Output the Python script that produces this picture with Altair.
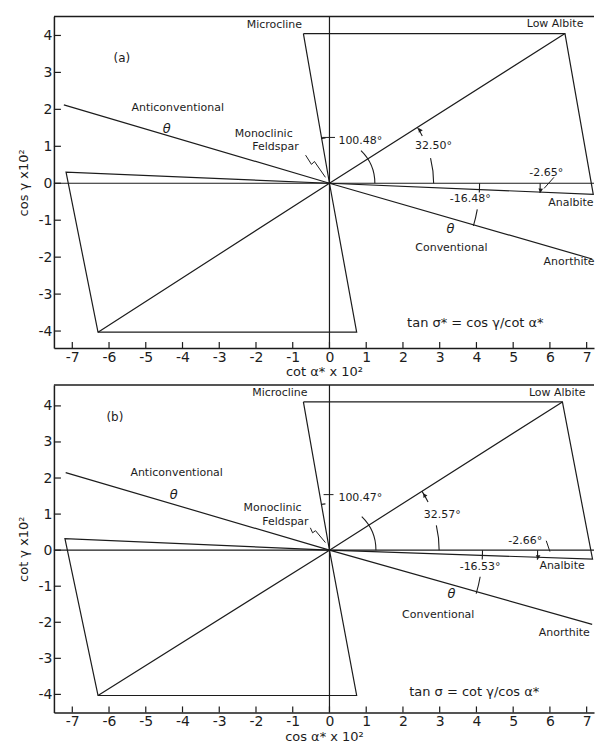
import math
import altair as alt
import pandas as pd

# ---------------- layout ----------------
W = 541
H_A = 332
H_B = 328
X_DOM = [-7.5, 7.2]
YA_DOM = [-4.46, 4.51]
YB_DOM = [-4.5, 4.58]
PX_PER_UNIT = W / (X_DOM[1] - X_DOM[0])
INK = "#1c1c1c"
FONT = "DejaVu Sans"

x_ticks = list(range(-7, 8))
y_ticks = list(range(-4, 5))

# ---------------- panel (a) data ----------------
a_microcline = (-0.71, 4.05)
a_low_albite = (6.41, 4.05)
a_analbite = (7.18, -0.30)
a_left = (-7.17, 0.30)
a_lower_left = (-6.30, -4.03)
a_lower_right = (0.74, -4.03)
a_anti = (-7.23, 2.12)
a_anorthite = (7.15, -2.05)

a_label_text = ["Microcline", "Low Albite", "Anticonventional", "Monoclinic", "Feldspar",
                "100.48°", "32.50°", "-2.65°", "Analbite", "-16.48°", "Conventional", "Anorthite"]
a_label_x = [-1.50, 6.14, -4.13, -1.79, -1.47, 0.84, 2.83, 5.90, 6.57, 3.83, 3.32, 6.52]
a_label_y = [4.27, 4.32, 2.03, 1.32, 0.97, 1.14, 1.00, 0.27, -0.54, -0.43, -1.76, -2.14]
a_theta_x = [-4.43, 3.29]
a_theta_y = [1.46, -1.24]
a_tag = ("(a)", -5.65, 3.38)
a_formula = ("tan σ* = cos γ/cot α*", 3.97, -3.78)
a_x_title = "cot α* x 10²"
a_y_title = "cos γ x10²"
# arcs: radius (data units), start angle, end angle (degrees from +x axis)
a_arc_r = [1.25, 1.25, 2.85, 2.85, 4.10, 4.10, 5.75]
a_arc_a1 = [0, 95, 0, 27, 0, -10, 0]
a_arc_a2 = [46, 100.48, 14, 32.50, -3.5, -16.48, -2.65]
# arrow heads: radius, angle on arc (deg), pointing direction (clockwise rotation of triangle-up)
a_head_r = [2.85, 5.75]
a_head_a = [30.5, -2.0]
a_head_rot = [327.5, 182.5]
a_leaders = [[(-0.20, 1.24), (0.15, 1.24)], [(5.84, -0.14), (6.11, 0.16)],
             [(-0.65, 0.76), (-0.49, 0.51), (-0.41, 0.59), (-0.11, 0.16)]]

# ---------------- panel (b) data ----------------
b_microcline = (-0.71, 4.11)
b_low_albite = (6.34, 4.11)
b_analbite = (7.16, -0.25)
b_left = (-7.20, 0.32)
b_lower_left = (-6.30, -4.03)
b_lower_right = (0.74, -4.03)
b_anti = (-7.18, 2.15)
b_anorthite = (7.15, -2.06)

b_label_text = ["Microcline", "Low Albite", "Anticonventional", "Monoclinic", "Feldspar",
                "100.47°", "32.57°", "-2.66°", "Analbite", "-16.53°", "Conventional", "Anorthite"]
b_label_x = [-1.35, 6.20, -4.16, -1.55, -1.20, 0.84, 3.07, 5.33, 6.33, 4.10, 2.96, 6.39]
b_label_y = [4.36, 4.36, 2.15, 1.18, 0.79, 1.45, 0.98, 0.26, -0.43, -0.48, -1.79, -2.29]
b_theta_x = [-4.24, 3.32]
b_theta_y = [1.54, -1.23]
b_tag = ("(b)", -5.84, 3.70)
b_formula = ("tan σ = cot γ/cos α*", 3.94, -3.92)
b_x_title = "cos α* x 10²"
b_y_title = "cot γ x10²"
b_arc_r = [1.28, 1.28, 3.00, 3.00, 4.18, 4.18, 5.68]
b_arc_a1 = [0, 95, 0, 26, 0, -10, 0]
b_arc_a2 = [46, 100.47, 13, 32.57, -3.5, -16.53, -2.66]
b_head_r = [3.00, 5.68]
b_head_a = [30.6, -2.0]
b_head_rot = [327.4, 182.5]
b_leaders = [[(-0.16, 1.54), (0.11, 1.54)], [(5.90, 0.26), (6.00, -0.04)],
             [(-0.52, 0.62), (-0.46, 0.48), (-0.38, 0.54), (-0.11, 0.21)]]


def path_df(paths):
    rows = []
    for sid, pts in enumerate(paths):
        for i, (x, y) in enumerate(pts):
            rows.append(dict(seg=sid, o=i, x=x, y=y))
    return pd.DataFrame(rows)


def to_theta(deg):
    return (90 - deg) * math.pi / 180


def make_panel(height, ydom, microcline, low_albite, analbite, left, lower_left, lower_right,
               anti, anorthite, lab_t, lab_x, lab_y, th_x, th_y, tag, formula, xt, yt,
               arc_r, arc_a1, arc_a2, head_r, head_a, head_rot, leaders):
    O = (0.0, 0.0)
    xs = alt.Scale(domain=X_DOM, nice=False, zero=False)
    ys = alt.Scale(domain=ydom, nice=False, zero=False)
    ax_x = alt.Axis(values=x_ticks, title=xt, ticks=False, grid=False, domainColor=INK,
                    domainWidth=1.5, labelFont=FONT, labelFontSize=14, labelColor=INK,
                    labelPadding=2, labelExpr="'' + datum.value", labelFlush=False,
                    labelOverlap=False, titleFont=FONT, titleFontSize=13,
                    titleFontWeight="normal", titleColor=INK, titlePadding=2)
    ax_y = alt.Axis(values=y_ticks, title=yt, ticks=False, grid=False, domainColor=INK,
                    domainWidth=1.5, labelFont=FONT, labelFontSize=14, labelColor=INK,
                    labelPadding=2, labelExpr="'' + datum.value", labelFlush=False,
                    labelOverlap=False, titleFont=FONT, titleFontSize=13,
                    titleFontWeight="normal", titleColor=INK, titlePadding=8)
    X = lambda f: alt.X(f, scale=xs, axis=ax_x)
    Y = lambda f: alt.Y(f, scale=ys, axis=ax_y)

    zero_v = alt.Chart(pd.DataFrame({"x": [0.0]})).mark_rule(color=INK, strokeWidth=1.2).encode(x=X("x:Q"))
    zero_h = alt.Chart(pd.DataFrame({"y": [0.0]})).mark_rule(color=INK, strokeWidth=1.2).encode(y=Y("y:Q"))
    top = alt.Chart(pd.DataFrame({"k": [0]})).mark_rule(color=INK, strokeWidth=1.5).encode(
        x=alt.value(0), x2=alt.value(W), y=alt.value(0))

    paths = [
        [microcline, low_albite, analbite, O, left, lower_left, lower_right, O, microcline],
        [low_albite, O, lower_left],
        [anti, O, anorthite],
    ]
    lines = alt.Chart(path_df(paths)).mark_line(color=INK, strokeWidth=1.2).encode(
        x=X("x:Q"), y=Y("y:Q"), detail="seg:N", order="o:Q")
    lead = alt.Chart(path_df(leaders)).mark_line(color=INK, strokeWidth=1.0).encode(
        x=X("x:Q"), y=Y("y:Q"), detail="seg:N", order="o:Q")

    arc_rows = []
    for r, a1, a2 in zip(arc_r, arc_a1, arc_a2):
        t1, t2 = to_theta(a1), to_theta(a2)
        if t1 < 0 or t2 < 0:
            t1 += 2 * math.pi
            t2 += 2 * math.pi
        rp = r * PX_PER_UNIT
        arc_rows.append(dict(x=0.0, y=0.0, t1=t1, t2=t2, r=rp, r2=rp - 1.1))
    arcs = alt.Chart(pd.DataFrame(arc_rows)).mark_arc(color=INK).encode(
        x=X("x:Q"), y=Y("y:Q"),
        theta=alt.Theta("t1:Q", scale=None, stack=None), theta2=alt.Theta2("t2:Q"),
        radius=alt.Radius("r:Q", scale=None), radius2=alt.Radius2("r2:Q"))

    head_df = pd.DataFrame({
        "x": [r * math.cos(math.radians(a)) for r, a in zip(head_r, head_a)],
        "y": [r * math.sin(math.radians(a)) for r, a in zip(head_r, head_a)],
        "rot": head_rot,
    })
    heads = alt.Chart(head_df).mark_point(shape="triangle-up", filled=True, size=22,
                                          color=INK, opacity=1).encode(
        x=X("x:Q"), y=Y("y:Q"), angle=alt.Angle("rot:Q", scale=None))

    xt_ticks = alt.Chart(pd.DataFrame({"x": x_ticks})).mark_rule(color=INK, strokeWidth=1.2).encode(
        x=X("x:Q"), y=alt.value(height), y2=alt.value(height - 6))
    yt_ticks = alt.Chart(pd.DataFrame({"y": y_ticks})).mark_rule(color=INK, strokeWidth=1.2).encode(
        y=Y("y:Q"), x=alt.value(0), x2=alt.value(7))

    labels = alt.Chart(pd.DataFrame({"x": lab_x, "y": lab_y, "t": lab_t})).mark_text(
        font=FONT, fontSize=11, color=INK, baseline="middle").encode(x=X("x:Q"), y=Y("y:Q"), text="t:N")
    thetas = alt.Chart(pd.DataFrame({"x": th_x, "y": th_y, "t": ["θ", "θ"]})).mark_text(
        font=FONT, fontSize=13, fontStyle="italic", color=INK, baseline="middle").encode(
        x=X("x:Q"), y=Y("y:Q"), text="t:N")
    tagc = alt.Chart(pd.DataFrame({"x": [tag[1]], "y": [tag[2]], "t": [tag[0]]})).mark_text(
        font=FONT, fontSize=12, color=INK, baseline="middle").encode(x=X("x:Q"), y=Y("y:Q"), text="t:N")
    form = alt.Chart(pd.DataFrame({"x": [formula[1]], "y": [formula[2]], "t": [formula[0]]})).mark_text(
        font=FONT, fontSize=13, color=INK, baseline="middle").encode(x=X("x:Q"), y=Y("y:Q"), text="t:N")

    return alt.layer(zero_v, zero_h, top, lines, lead, arcs, heads, xt_ticks, yt_ticks,
                     labels, thetas, tagc, form).properties(width=W, height=height)


panel_a = make_panel(H_A, YA_DOM, a_microcline, a_low_albite, a_analbite, a_left, a_lower_left,
                     a_lower_right, a_anti, a_anorthite, a_label_text, a_label_x, a_label_y,
                     a_theta_x, a_theta_y, a_tag, a_formula, a_x_title, a_y_title,
                     a_arc_r, a_arc_a1, a_arc_a2, a_head_r, a_head_a, a_head_rot, a_leaders)
panel_b = make_panel(H_B, YB_DOM, b_microcline, b_low_albite, b_analbite, b_left, b_lower_left,
                     b_lower_right, b_anti, b_anorthite, b_label_text, b_label_x, b_label_y,
                     b_theta_x, b_theta_y, b_tag, b_formula, b_x_title, b_y_title,
                     b_arc_r, b_arc_a1, b_arc_a2, b_head_r, b_head_a, b_head_rot, b_leaders)

chart = alt.vconcat(panel_a, panel_b, spacing=5).configure_view(stroke=None).properties(
    padding={"left": 9, "top": 7, "right": 0, "bottom": 0})

chart.save("out.html", embed_options={"renderer": "svg", "actions": False})
